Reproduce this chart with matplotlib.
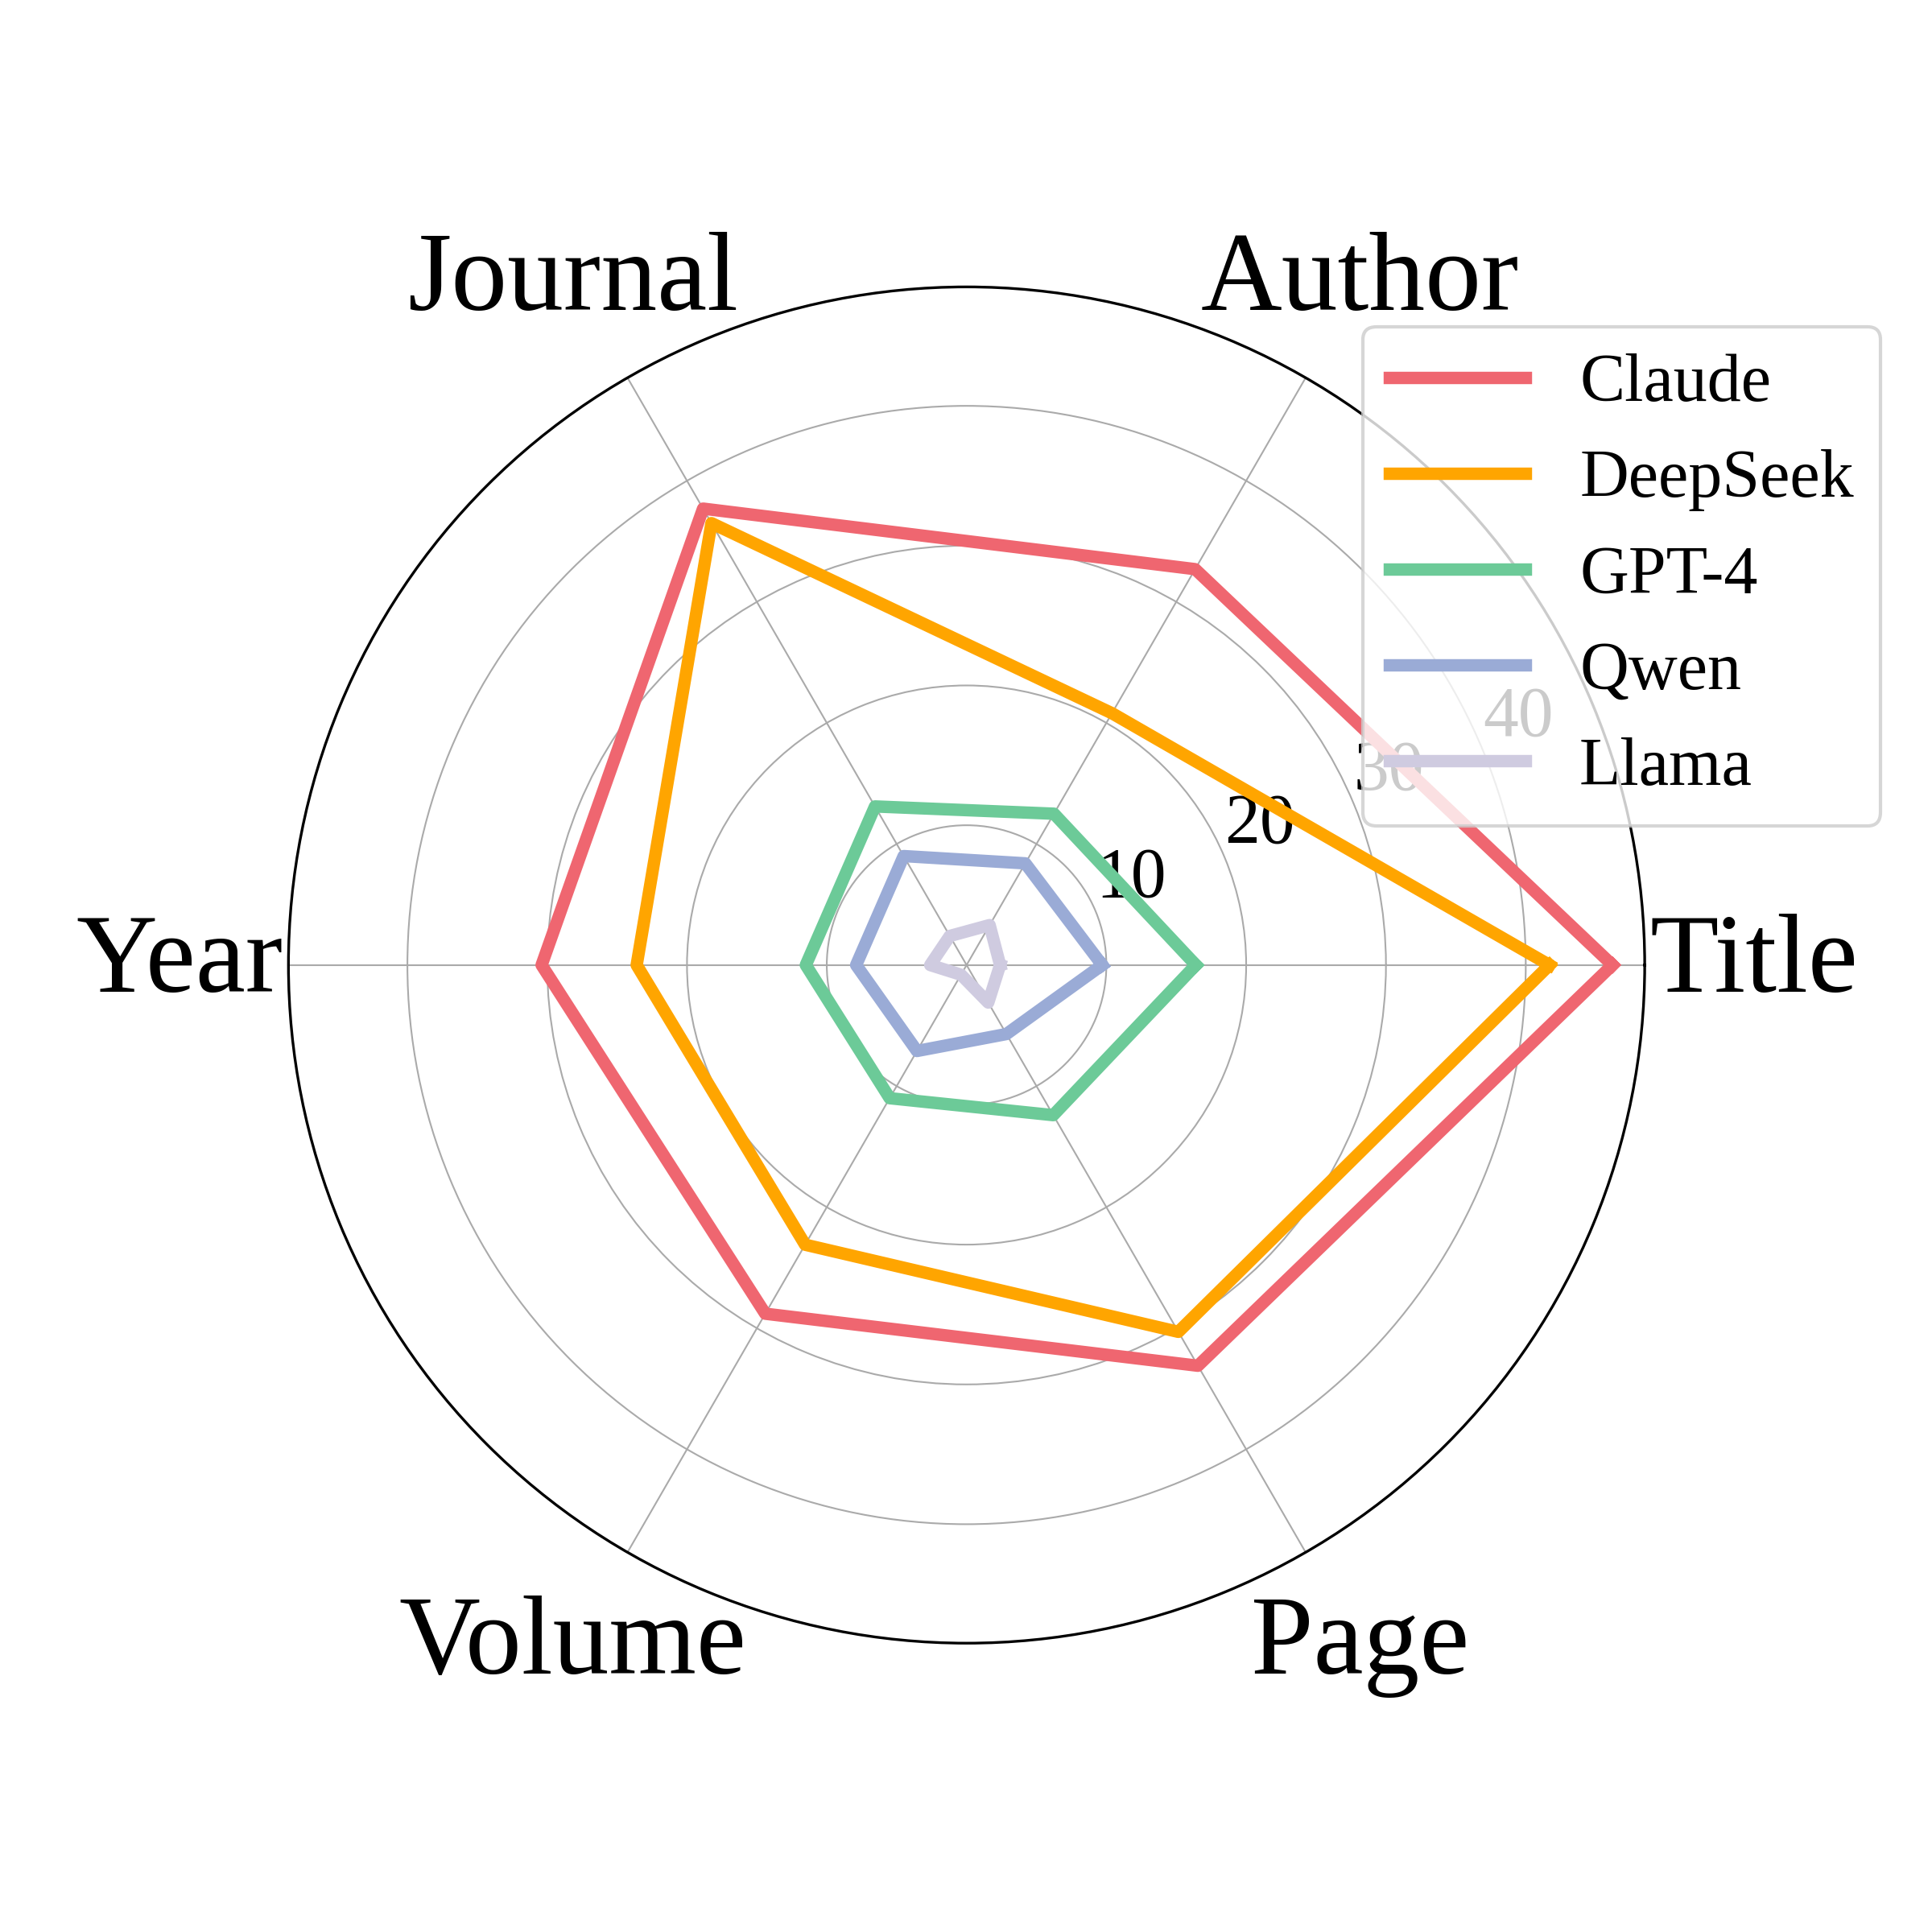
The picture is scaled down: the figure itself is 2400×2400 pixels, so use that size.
import numpy as np
import matplotlib.pyplot as plt

plt.rcParams['font.family'] = ['Liberation Serif', 'DejaVu Serif']

# Data
categories = ['Title', 'Author', 'Journal', 'Year', 'Volume', 'Page']
models = ['Claude', 'DeepSeek', 'GPT-4', 'Qwen', 'Llama']
claude = [46.2, 32.7, 37.7, 30.4, 28.8, 33.1]
deepseek = [41.7, 20.8, 36.5, 23.6, 23.1, 30.3]
gpt4 = [16.4, 12.5, 13.1, 11.5, 11.0, 12.4]
qwen = [9.7, 8.4, 9.0, 7.9, 7.1, 5.7]
llama = [2.4, 3.3, 2.4, 2.6, 0.8, 3.1]
colors = ['#ef6670', '#ffa500', '#6cca98', '#9aabd6', '#cfcbe0']

series = [claude, deepseek, gpt4, qwen, llama]

angles = np.linspace(0, 2 * np.pi, len(categories), endpoint=False)
angles_closed = np.concatenate([angles, angles[:1]])

fig = plt.figure(figsize=(8, 8), dpi=300)
ax = fig.add_axes([0.1493, 0.1495, 0.702, 0.702], polar=True)

for name, vals, c in zip(models, series, colors):
    v = np.concatenate([vals, vals[:1]])
    ax.plot(angles_closed, v, color=c, linewidth=3.7, label=name, zorder=3)

ax.set_xticks(angles)
ax.set_xticklabels(categories, fontsize=33.5)
ax.tick_params(axis='x', pad=22)
ax.set_ylim(0, max(claude) * 1.05)
ax.set_yticks([10, 20, 30, 40])
ax.set_yticklabels(['10', '20', '30', '40'], fontsize=21)
ax.grid(color='#aaaaaa', linewidth=0.5)
ax.spines['polar'].set_linewidth(0.8)

ax.legend(loc='upper right', bbox_to_anchor=(0.9735, 0.831),
          bbox_transform=fig.transFigure, fontsize=20.2, borderaxespad=0)

fig.savefig('out.png', dpi=300)
